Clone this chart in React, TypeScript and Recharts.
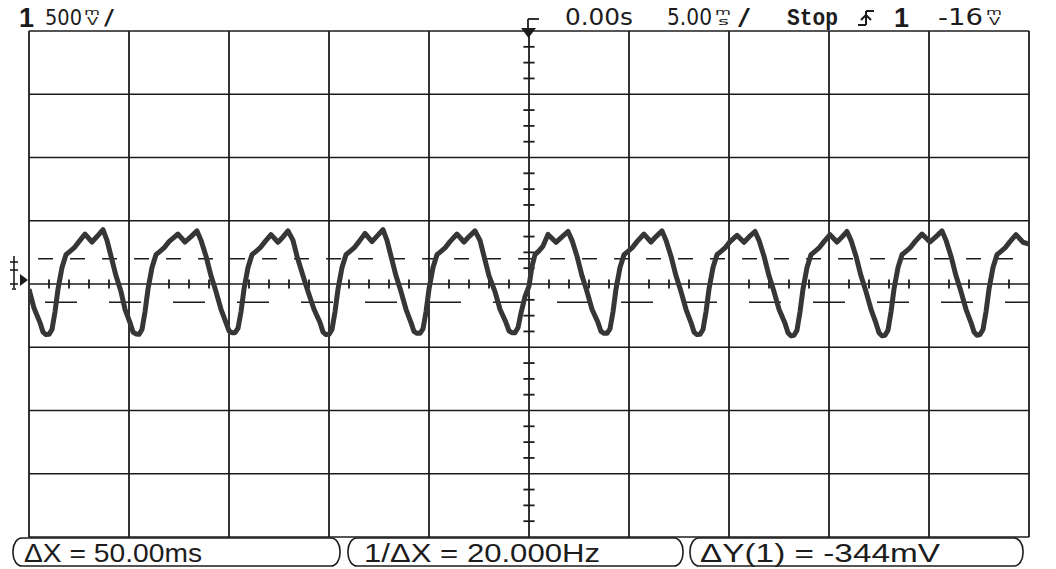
import { LineChart, Line, XAxis, YAxis, ReferenceLine } from "recharts";

const W = 1056;
const H = 569;
const MARGIN = { top: 31, right: 27, bottom: 32, left: 29 };
const INK = "#1c1c1c";

// 5 ms/div across 10 divisions, 500 mV/div across 8 divisions
const timeGrid = [-25, -20, -15, -10, -5, 0, 5, 10, 15, 20, 25];
const voltGrid = [-2000, -1500, -1000, -500, 0, 500, 1000, 1500, 2000];
const timeMinor = [
  -24, -23, -22, -21, -19, -18, -17, -16, -14, -13, -12, -11, -9, -8, -7, -6, -4, -3, -2, -1,
  1, 2, 3, 4, 6, 7, 8, 9, 11, 12, 13, 14, 16, 17, 18, 19, 21, 22, 23, 24,
];
const voltMinor = [
  -1875, -1750, -1625, -1375, -1250, -1125, -875, -750, -625, -375, -250, -125,
  125, 250, 375, 625, 750, 875, 1125, 1250, 1375, 1625, 1750, 1875,
];
const cursorY1 = 200;
const cursorY2 = -144;

// [time ms, mV]
const trace: [number, number][] = [
  [-25.0, -40], [-24.75, -190], [-24.45, -305], [-24.3, -380],
  [-24.15, -400], [-24.0, -398], [-23.85, -360], [-23.7, -220], [-23.55, -40], [-23.35, 130], [-23.15, 232], [-22.95, 258], [-22.75, 285], [-22.5, 335], [-22.2, 395], [-21.85, 332], [-21.6, 375], [-21.3, 430], [-21.1, 345], [-20.9, 220], [-20.65, 65], [-20.4, -60], [-20.2, -200],
  [-19.95, -305], [-19.8, -380], [-19.65, -395], [-19.5, -398], [-19.35, -360], [-19.2, -220], [-19.05, -40], [-18.85, 130], [-18.65, 232], [-18.45, 258], [-18.25, 285], [-18.0, 335], [-17.55, 395], [-17.2, 332], [-16.9, 375], [-16.6, 420], [-16.4, 345], [-16.15, 220], [-15.9, 65], [-15.65, -60], [-15.4, -200],
  [-15.15, -305], [-15.0, -370], [-14.85, -385], [-14.7, -385], [-14.55, -350], [-14.4, -220], [-14.25, -40], [-14.05, 130], [-13.85, 232], [-13.65, 258], [-13.45, 285], [-13.2, 335], [-12.9, 390], [-12.55, 330], [-12.3, 372], [-12.05, 420], [-11.8, 345], [-11.6, 220], [-11.3, 65], [-11.05, -60], [-10.75, -200],
  [-10.45, -305], [-10.3, -380], [-10.15, -400], [-10.0, -398], [-9.85, -360], [-9.7, -220], [-9.55, -40], [-9.35, 130], [-9.15, 232], [-8.95, 258], [-8.75, 285], [-8.5, 335], [-8.2, 400], [-7.85, 335], [-7.6, 378], [-7.3, 430], [-7.1, 345], [-6.9, 220], [-6.65, 65], [-6.4, -60], [-6.15, -200],
  [-5.9, -305], [-5.75, -375], [-5.6, -390], [-5.45, -390], [-5.3, -355], [-5.15, -220], [-5.0, -40], [-4.8, 130], [-4.6, 232], [-4.4, 258], [-4.2, 285], [-3.95, 335], [-3.6, 395], [-3.25, 332], [-3.0, 375], [-2.7, 420], [-2.45, 345], [-2.25, 220], [-2.0, 65], [-1.7, -60], [-1.45, -200],
  [-1.15, -305], [-1.0, -370], [-0.85, -385], [-0.7, -385], [-0.55, -345], [-0.4, -230], [-0.2, -100], [0.0, -16], [0.15, 140], [0.3, 232], [0.5, 262], [0.7, 300], [0.95, 392], [1.35, 330], [1.65, 372], [1.95, 415], [2.15, 345], [2.4, 220], [2.65, 65], [2.9, -60], [3.15, -200],
  [3.45, -305], [3.6, -375], [3.75, -390], [3.9, -390], [4.05, -355], [4.2, -220], [4.35, -40], [4.55, 130], [4.75, 232], [4.95, 258], [5.15, 285], [5.4, 335], [5.75, 395], [6.1, 332], [6.35, 375], [6.65, 420], [6.85, 345], [7.1, 220], [7.35, 65], [7.6, -60], [7.85, -200],
  [8.1, -305], [8.25, -380], [8.4, -400], [8.55, -398], [8.7, -360], [8.85, -220], [9.0, -40], [9.2, 130], [9.4, 232], [9.6, 258], [9.8, 285], [10.05, 335], [10.4, 385], [10.75, 330], [11.0, 372], [11.3, 415], [11.5, 345], [11.75, 220], [12.0, 65], [12.25, -60], [12.5, -200],
  [12.8, -310], [12.95, -385], [13.1, -410], [13.25, -405], [13.4, -365], [13.55, -220], [13.7, -40], [13.9, 130], [14.1, 232], [14.3, 258], [14.5, 285], [14.75, 335], [15.05, 390], [15.4, 332], [15.65, 372], [15.9, 415], [16.1, 345], [16.35, 220], [16.6, 65], [16.85, -60], [17.1, -200],
  [17.35, -310], [17.5, -385], [17.65, -410], [17.8, -405], [17.95, -365], [18.1, -220], [18.25, -40], [18.45, 130], [18.65, 232], [18.85, 258], [19.05, 285], [19.3, 335], [19.65, 395], [20.05, 332], [20.35, 375], [20.65, 420], [20.85, 345], [21.1, 220], [21.35, 65], [21.6, -60], [21.85, -200],
  [22.1, -305], [22.25, -380], [22.4, -405], [22.55, -400], [22.7, -360], [22.85, -220], [23.0, -40], [23.2, 130], [23.4, 232], [23.6, 258], [23.8, 285], [24.05, 335], [24.35, 390], [24.7, 330], [25.0, 315],
];

const readouts = ["ΔX = 50.00ms", "1/ΔX = 20.000Hz", "ΔY(1) = -344mV"];

const data = trace.map(([t, v]) => ({ t, v }));

const sans = "'DejaVu Sans', sans-serif";

// small unit glyph: one letter stacked over another, as the scope draws "mV" and "ms"
function Stacked({ x, top, bottom, y }: { x: number; top: string; bottom: string; y: number }) {
  return (
    <g fill={INK} fontFamily={sans}>
      <text x={x} y={y - 10} fontSize={9} textLength={16} lengthAdjust="spacingAndGlyphs">{top}</text>
      <text x={x + 3} y={y} fontSize={10} textLength={11} lengthAdjust="spacingAndGlyphs">{bottom}</text>
    </g>
  );
}

function Label({ x, y, len, size = 23, children }: { x: number; y: number; len: number; size?: number; children: string }) {
  return (
    <text x={x} y={y} fontSize={size} fontFamily={sans} fill={INK} textLength={len} lengthAdjust="spacingAndGlyphs">
      {children}
    </text>
  );
}

function Overlay() {
  const boxes = [
    { x: 13, w: 327, tx: 24, tl: 178 },
    { x: 348, w: 335, tx: 364, tl: 236 },
    { x: 690, w: 333, tx: 700, tl: 240 },
  ];
  return (
    <svg width={W} height={H} style={{ position: "absolute", left: 0, top: 0, pointerEvents: "none" }}>
      {/* channel scale */}
      <text x={19} y={27} fontSize={27} fontWeight="bold" fontFamily="'Liberation Sans', sans-serif" fill={INK}>1</text>
      <Label x={45} y={25} len={37} size={22}>500</Label>
      <Stacked x={84} y={25} top="m" bottom="V" />
      <Label x={104} y={25} len={10} size={22}>/</Label>

      {/* timebase & trigger */}
      <Label x={565} y={25} len={68}>0.00s</Label>
      <Label x={667} y={25} len={45}>5.00</Label>
      <Stacked x={715} y={25} top="m" bottom="s" />
      <Label x={738} y={25} len={12}>/</Label>
      <text x={787} y={25} fontSize={23} fontFamily="'Liberation Mono', monospace" fontWeight="bold" fill={INK} textLength={51} lengthAdjust="spacingAndGlyphs">Stop</text>
      <g stroke={INK} strokeWidth={2} fill="none">
        <path d="M 866 11 L 866 25 M 866 11 L 874 11 M 858 25 L 866 25 M 861 20 L 866 15 L 871 20" />
      </g>
      <text x={894} y={27} fontSize={27} fontWeight="bold" fontFamily="'Liberation Sans', sans-serif" fill={INK}>1</text>
      <Label x={938} y={25} len={45}>-16</Label>
      <Stacked x={986} y={25} top="m" bottom="V" />

      {/* trigger position marker */}
      <g stroke={INK} strokeWidth={1.8}>
        <line x1={528} y1={19} x2={528} y2={36} />
        <line x1={528} y1={19} x2={539} y2={19} />
      </g>
      <path d="M 521 28 L 536 28 L 528.5 38 Z" fill={INK} />

      {/* ground marker */}
      <g stroke={INK} strokeWidth={1.6}>
        <line x1={14} y1={256} x2={14} y2={288} />
        <line x1={10} y1={262} x2={18} y2={262} />
        <line x1={10} y1={270} x2={18} y2={270} />
        <line x1={10} y1={284} x2={18} y2={284} />
        <line x1={12} y1={289} x2={16} y2={289} />
      </g>
      <path d="M 20 274 L 28 280 L 20 286 Z" fill={INK} />

      {/* readout boxes */}
      {boxes.map((b, i) => (
        <g key={i}>
          <rect x={b.x} y={538} width={b.w} height={28} rx={9} ry={13} fill="none" stroke={INK} strokeWidth={1.6} />
          <text x={b.tx} y={562} fontSize={25} fontFamily="'Liberation Sans', sans-serif" fill={INK} textLength={b.tl} lengthAdjust="spacingAndGlyphs">
            {readouts[i]}
          </text>
        </g>
      ))}
    </svg>
  );
}

export default function App() {
  return (
    <div style={{ position: "absolute", left: 0, top: 0, width: W, height: H, background: "#fff" }}>
      <LineChart width={W} height={H} data={data} margin={MARGIN}>
        <XAxis type="number" dataKey="t" domain={[-25, 25]} allowDataOverflow hide />
        <YAxis type="number" domain={[-2000, 2000]} allowDataOverflow hide />
        {timeGrid.map(t => (
          <ReferenceLine key={`gx${t}`} x={t} stroke={INK} strokeWidth={1.8} />
        ))}
        {voltGrid.map(v => (
          <ReferenceLine key={`gy${v}`} y={v} stroke={INK} strokeWidth={1.6} />
        ))}
        {timeMinor.map(t => (
          <ReferenceLine key={`mx${t}`} segment={[{ x: t, y: -36 }, { x: t, y: 36 }]} stroke={INK} strokeWidth={1.8} />
        ))}
        {voltMinor.map(v => (
          <ReferenceLine key={`my${v}`} segment={[{ x: -0.28, y: v }, { x: 0.28, y: v }]} stroke={INK} strokeWidth={1.8} />
        ))}
        <ReferenceLine y={cursorY1} stroke={INK} strokeWidth={1.5} strokeDasharray="15 17" strokeDashoffset={23} />
        <ReferenceLine y={cursorY2} stroke={INK} strokeWidth={1.5} strokeDasharray="32 32" strokeDashoffset={48} />
        <Line
          type="linear"
          dataKey="v"
          stroke="#363636"
          strokeWidth={5}
          strokeLinejoin="round"
          dot={false}
          isAnimationActive={false}
        />
      </LineChart>
      <Overlay />
    </div>
  );
}
